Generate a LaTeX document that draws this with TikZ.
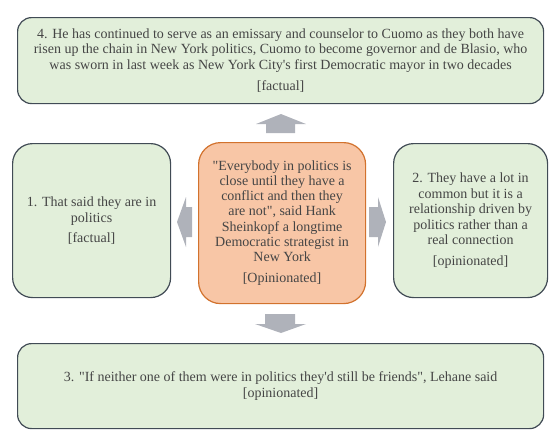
\documentclass[tikz,border=0pt]{standalone}
\usepackage{fontspec}
\setmainfont{Liberation Serif}[Ligatures=TeXOff]
\definecolor{gfill}{HTML}{E2EFDA}
\definecolor{gline}{HTML}{414B55}
\definecolor{ofill}{HTML}{F8C6A6}
\definecolor{oline}{HTML}{D2722D}
\definecolor{agray}{HTML}{AFB2BA}
\definecolor{tgray}{HTML}{454545}
\begin{document}
\begin{tikzpicture}[x=1pt,y=-1pt,
  gbox/.style={draw=gline,line width=1.2pt,fill=gfill,rounded corners=#1,inner sep=0pt,
    text=tgray,font=\fontsize{14}{15.6}\selectfont,align=center,anchor=north west},
  gbox/.default=18pt,
  obox/.style={draw=oline,line width=1.2pt,fill=ofill,rounded corners=22pt,inner sep=0pt,
    text=tgray,font=\fontsize{14}{15.2}\selectfont,align=center,anchor=north west},
  blk/.style={fill=agray,draw=none}]
\useasboundingbox (0,0) rectangle (549,437);
% boxes
\node[gbox=14pt,minimum width=526pt,minimum height=86pt] (top) at (17,17)
  {4. He has continued to serve as an emissary and counselor to Cuomo as they both have\\
   risen up the chain in New York politics, Cuomo to become governor and de Blasio, who\\
   was sworn in last week as New York City's first Democratic mayor in two decades\\[6pt]
   {[factual]}};
\node[gbox=20pt,minimum width=158pt,minimum height=154pt] (left) at (12,143)
  {1. That said they are in\\ politics\\[5pt] {[factual]}};
\node[obox,minimum width=167pt,minimum height=161pt] (mid) at (198,142)
  {"Everybody in politics is\\ close until they have a\\ conflict and then they\\
   are not", said Hank\\ Sheinkopf a longtime\\ Democratic strategist in\\ New York\\[6pt]
   {[Opinionated]}};
\node[gbox=20pt,minimum width=154pt,minimum height=154pt] (right) at (393,143)
  {2. They have a lot in\\ common but it is a\\ relationship driven by\\ politics rather than a\\
   real connection\\[5pt] {[opinionated]}};
\node[gbox=14pt,minimum width=526pt,minimum height=85pt] (bot) at (17,343)
  {3. "If neither one of them were in politics they'd still be friends", Lehane said\\
   {[opinionated]}};
% block arrows
\fill[blk] (266,133) -- (266,124) -- (256,124) -- (281,114) -- (306,124) -- (295,124) -- (295,133) -- cycle;
\fill[blk] (265,314) -- (295,314) -- (295,324) -- (306,324) -- (281,333) -- (255,324) -- (265,324) -- cycle;
\fill[blk] (192,207) -- (186,207) -- (186,197) -- (177,222) -- (186,247) -- (186,237) -- (192,237) -- cycle;
\fill[blk] (369,207) -- (378,207) -- (378,197) -- (386,222) -- (378,247) -- (378,237) -- (369,237) -- cycle;
\end{tikzpicture}
\end{document}
